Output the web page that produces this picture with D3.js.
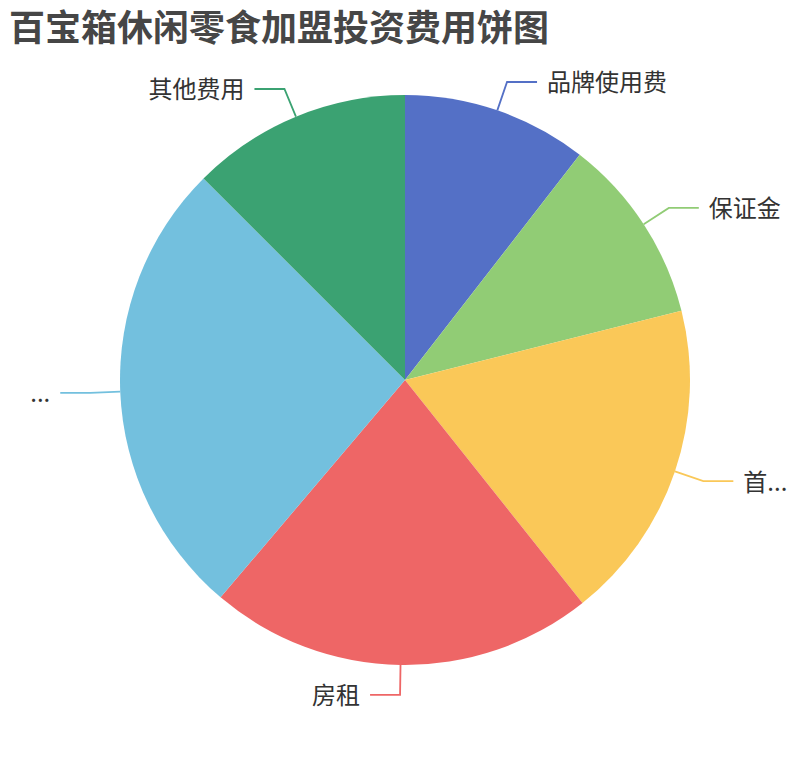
<!DOCTYPE html>
<html>
<head>
<meta charset="utf-8">
<script src="https://cdn.jsdelivr.net/npm/d3@7/dist/d3.min.js"></script>
<style>
  html, body { margin: 0; padding: 0; background: #fff; }
  svg { display: block; }
</style>
</head>
<body>
<svg id="chart" width="810" height="760"></svg>
<script>
const titleText = "百宝箱休闲零食加盟投资费用饼图";
const categories = ["品牌使用费", "保证金", "首...", "房租", "...", "其他费用"];
const values = [10.5, 10.6, 18.2, 21.9, 26.3, 12.5];
const colors = ["#5470c6", "#91cc75", "#fac858", "#ee6666", "#73c0de", "#3ba272"];

const svg = d3.select("#chart");
const W = 810, H = 760;
const cx = 405, cy = 380, R = 285;
const len1 = 30, len2 = 30, gap = 10;

svg.append("text")
  .attr("x", 9).attr("y", 25)
  .attr("dominant-baseline", "central")
  .attr("font-family", "'Noto Sans CJK SC', 'Noto Sans', sans-serif")
  .attr("font-weight", "bold")
  .attr("font-size", 36)
  .attr("fill", "#464646")
  .text(titleText);

const data = categories.map((c, i) => ({ name: c, value: values[i], color: colors[i] }));
const pie = d3.pie().sort(null).value(d => d.value).startAngle(0).endAngle(2 * Math.PI);
const arcs = pie(data);
const arc = d3.arc().innerRadius(0).outerRadius(R);

const g = svg.append("g").attr("transform", `translate(${cx},${cy})`);

g.selectAll("path.slice").data(arcs).enter().append("path")
  .attr("class", "slice")
  .attr("d", arc)
  .attr("fill", d => d.data.color);

const pt = (a, r) => [r * Math.sin(a), -r * Math.cos(a)];

arcs.forEach(d => {
  const mid = (d.startAngle + d.endAngle) / 2;
  const p0 = pt(mid, R);
  const p1 = pt(mid, R + len1);
  const right = Math.sin(mid) >= 0;
  const p2 = [p1[0] + (right ? len2 : -len2), p1[1]];
  g.append("path")
    .attr("d", d3.line()([p0, p1, p2]))
    .attr("fill", "none")
    .attr("stroke", d.data.color)
    .attr("stroke-width", 1.8);
  g.append("text")
    .attr("x", p2[0] + (right ? gap : -gap))
    .attr("y", p2[1] - 1)
    .attr("dominant-baseline", "central")
    .attr("text-anchor", right ? "start" : "end")
    .attr("font-family", "'Noto Sans CJK SC', 'Noto Sans', sans-serif")
    .attr("font-size", 24)
    .attr("fill", "#333")
    .text(d.data.name);
});
</script>
</body>
</html>
